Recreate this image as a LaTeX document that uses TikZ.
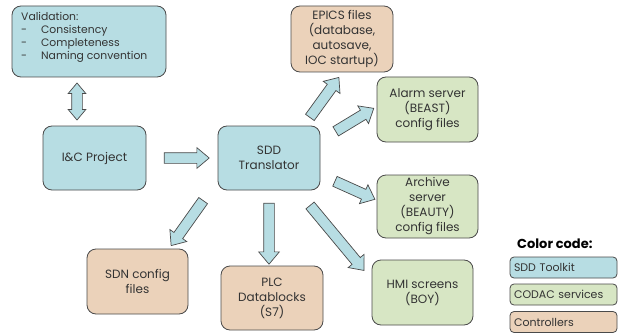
\documentclass[tikz,border=0pt]{standalone}
\usepackage{fontspec}
\setmainfont{Poppins}
\usetikzlibrary{shapes.arrows,calc}
\definecolor{bluefill}{HTML}{B7DDE3}
\definecolor{greenfill}{HTML}{D7E6C4}
\definecolor{tanfill}{HTML}{EBD2BA}
\definecolor{bordercol}{HTML}{4A4A4A}
\definecolor{txtcol}{HTML}{333333}
\newcommand\blockarrow[2]{\path let \p1=(#1), \p2=(#2), \n1={atan2(\y2-\y1,\x2-\x1)}, \n2={veclen(\x2-\x1,\y2-\y1)} in node[barrow, minimum height=\n2, rotate=\n1] at ($(#1)!0.5!(#2)$) {};}
\begin{document}
\begin{tikzpicture}[x=1pt,y=-1pt,
 box/.style={draw=bordercol, line width=0.8pt, rounded corners=9pt, align=center, inner sep=2pt, text=txtcol, font=\fontsize{12}{15}\selectfont},
 sdd/.style={box, fill=bluefill},
 codac/.style={box, fill=greenfill},
 ctrl/.style={box, fill=tanfill},
 legbox/.style={draw=bordercol, line width=0.8pt, rounded corners=4pt, minimum width=107pt, minimum height=21pt, text width=99pt, align=left, inner sep=0pt, text=txtcol, font=\fontsize{11}{13}\selectfont},
 barrow/.style={single arrow, draw=bordercol, fill=bluefill, line width=0.7pt, minimum width=20pt, single arrow head extend=5pt, single arrow tip angle=80, inner xsep=0pt, inner ysep=5pt},
 darrow/.style={double arrow, draw=bordercol, fill=bluefill, line width=0.7pt, minimum width=17pt, double arrow head extend=3.5pt, double arrow tip angle=80, inner xsep=0pt, inner ysep=5pt}
]
\useasboundingbox (0,0) rectangle (623,334);
\fill[white] (0,0) rectangle (623,334);
% boxes
\node[sdd, minimum width=154pt, minimum height=71pt] (val) at (89,41.5) {};
\node[anchor=north west, inner sep=0pt, text=txtcol, font=\fontsize{10.8}{13}\selectfont, align=left] (valtxt) at (21,12)
 {Validation:\\
 -\hspace{14pt}Consistency\\
 -\hspace{14pt}Completeness\\
 -\hspace{14pt}Naming convention};
\node[sdd, minimum width=103pt, minimum height=64pt] (ic) at (94.5,158) {I\&C Project};
\node[sdd, minimum width=102pt, minimum height=64pt] (sdd) at (269,158) {SDD\\Translator};
\node[ctrl, minimum width=102pt, minimum height=66pt] (epics) at (342,39) {EPICS files\\(database,\\autosave,\\IOC startup)};
\node[codac, minimum width=101pt, minimum height=65pt] (alarm) at (427.5,109.5) {Alarm server\\(BEAST)\\config files};
\node[codac, minimum width=101pt, minimum height=63pt] (archive) at (427.5,206.5) {Archive\\server\\(BEAUTY)\\config files};
\node[codac, minimum width=101pt, minimum height=65pt] (hmi) at (422.5,292.5) {HMI screens\\(BOY)};
\node[ctrl, minimum width=101pt, minimum height=65pt] (sdn) at (137.5,281.5) {SDN config\\files};
\node[ctrl, minimum width=102pt, minimum height=64pt] (plc) at (272,298) {PLC\\Datablocks\\(S7)};
% legend
\node[anchor=west, inner sep=0pt, font=\bfseries\fontsize{13}{15}\selectfont] (leg) at (517,244) {Color code:};
\node[legbox, fill=bluefill] (l1) at (563.5,267.5) {SDD Toolkit};
\node[legbox, fill=greenfill] (l2) at (563.5,294.5) {CODAC services};
\node[legbox, fill=tanfill] (l3) at (563.5,322) {Controllers};
% arrow end points
\coordinate (d1) at (77,83); \coordinate (d2) at (77,120);
\coordinate (a1) at (161,158); \coordinate (a2) at (206,158);
\coordinate (e1) at (308,120); \coordinate (e2) at (337,80);
\coordinate (b1) at (333,133); \coordinate (b2) at (371,110);
\coordinate (c1) at (332,180); \coordinate (c2) at (372,198);
\coordinate (h1) at (308,203); \coordinate (h2) at (362,268);
\coordinate (p1) at (269,200); \coordinate (p2) at (269,261);
\coordinate (s1) at (205,198); \coordinate (s2) at (173,243);
\path let \p1=(d1), \p2=(d2), \n1={atan2(\y2-\y1,\x2-\x1)}, \n2={veclen(\x2-\x1,\y2-\y1)} in node[darrow, minimum height=\n2, rotate=\n1] at ($(d1)!0.5!(d2)$) {};
\blockarrow{a1}{a2}
\blockarrow{e1}{e2}
\blockarrow{b1}{b2}
\blockarrow{c1}{c2}
\blockarrow{h1}{h2}
\blockarrow{p1}{p2}
\blockarrow{s1}{s2}
\end{tikzpicture}
\end{document}
